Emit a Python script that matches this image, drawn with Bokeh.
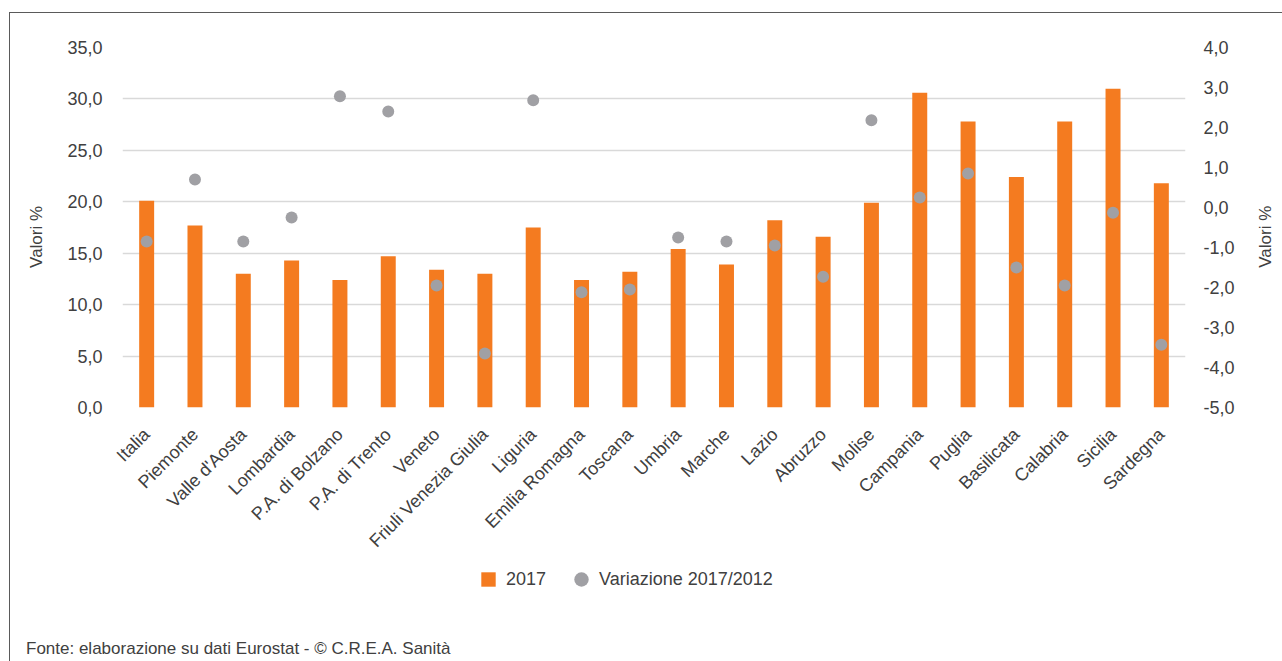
import math
from bokeh.plotting import figure
from bokeh.layouts import column, row
from bokeh.models import (ColumnDataSource, FactorRange, Range1d, LinearAxis, FixedTicker,
                          CustomJSTickFormatter, Legend, LegendItem, Div, Label)
from bokeh.embed import file_html
from bokeh.resources import INLINE

regions = ["Italia", "Piemonte", "Valle d'Aosta", "Lombardia", "P.A. di Bolzano",
           "P.A. di Trento", "Veneto", "Friuli Venezia Giulia", "Liguria", "Emilia Romagna",
           "Toscana", "Umbria", "Marche", "Lazio", "Abruzzo", "Molise", "Campania",
           "Puglia", "Basilicata", "Calabria", "Sicilia", "Sardegna"]
val_2017 = [20.1, 17.7, 13.0, 14.3, 12.4, 14.7, 13.4, 13.0, 17.5, 12.4, 13.2,
            15.4, 13.9, 18.2, 16.6, 19.9, 30.6, 27.8, 22.4, 27.8, 31.0, 21.8]
var_2017_2012 = [-0.85, 0.70, -0.85, -0.25, 2.78, 2.40, -1.95, -3.65, 2.68, -2.12, -2.05,
                 -0.75, -0.85, -0.95, -1.73, 2.18, 0.25, 0.85, -1.50, -1.95, -0.13, -3.43]
left_ticks = [0, 5, 10, 15, 20, 25, 30, 35]
right_ticks = [-5, -4, -3, -2, -1, 0, 1, 2, 3, 4]
axis_title = "Valori %"
legend_labels = ["2017", "Variazione 2017/2012"]
footer = "Fonte: elaborazione su dati Eurostat - \u00a9 C.R.E.A. Sanit\u00e0"

FONT = "Liberation Sans"
FS = "18px"
FS_SMALL = "17px"
TEXT = "#404040"
ORANGE = "#F47B20"
GRAY = "#A0A0A4"
GRID = "#D9D9D9"

W = 1272
WR = 32
H1 = 548
H2 = 78
H3 = 22

src = ColumnDataSource(dict(region=regions, v=val_2017, d=var_2017_2012))

p = figure(x_range=FactorRange(factors=regions, range_padding=0), y_range=Range1d(0, 35),
           width=W - WR, height=H1, output_backend="svg", toolbar_location=None,
           min_border_left=112, min_border_right=65, min_border_top=34, min_border_bottom=154)
p.extra_y_ranges = {"var": Range1d(-5, 4)}
p.outline_line_color = None
p.background_fill_color = "white"
p.border_fill_color = "white"

fmt = CustomJSTickFormatter(code="return tick.toFixed(1).replace('.', ',');")

ly = p.yaxis[0]
ly.ticker = FixedTicker(ticks=left_ticks)
ly.formatter = fmt

ry = LinearAxis(y_range_name="var", ticker=FixedTicker(ticks=right_ticks), formatter=fmt)
p.add_layout(ry, "right")

for ax in (ly, ry):
    ax.axis_line_color = None
    ax.major_tick_line_color = None
    ax.minor_tick_line_color = None
    ax.major_tick_out = 0
    ax.major_tick_in = 0
    ax.major_label_text_font = FONT
    ax.major_label_text_font_size = FS
    ax.major_label_text_color = TEXT
ly.major_label_standoff = 20
ry.major_label_standoff = 18
ry.major_label_text_align = "right"

# left title (non-breaking spaces nudge it slightly below the frame centre, as in the source)
ly.axis_label = axis_title + "\u00a0\u00a0\u00a0\u00a0"
ly.axis_label_text_font = FONT
ly.axis_label_text_font_size = FS_SMALL
ly.axis_label_text_font_style = "normal"
ly.axis_label_text_color = TEXT
ly.axis_label_standoff = 18

xa = p.xaxis[0]
xa.axis_line_color = None
xa.major_tick_line_color = None
xa.major_tick_out = 0
xa.major_label_orientation = math.pi / 4
xa.major_label_standoff = 24
xa.major_label_text_font = FONT
xa.major_label_text_font_size = FS
xa.major_label_text_color = TEXT

p.xgrid.grid_line_color = None
p.ygrid.grid_line_color = GRID
p.ygrid.grid_line_width = 1.6

p.vbar(x="region", top="v", width=0.31, source=src, fill_color=ORANGE, line_color=None)
p.scatter(x="region", y="d", y_range_name="var", size=12, source=src,
          fill_color=GRAY, line_color=None)

# narrow strip on the right carrying the right-hand axis title
r = figure(x_range=Range1d(0, WR), y_range=Range1d(0, 35), width=WR, height=H1,
           output_backend="svg", toolbar_location=None, x_axis_type=None, y_axis_type=None,
           min_border_left=0, min_border_right=0, min_border_top=34, min_border_bottom=154)
r.outline_line_color = None
r.xgrid.visible = False
r.ygrid.visible = False
r.background_fill_color = "white"
r.border_fill_color = "white"
r.add_layout(Label(x=15, y=16.6, text=axis_title, angle=math.pi / 2, text_align="center",
                   text_baseline="middle", text_font=FONT, text_font_size=FS_SMALL,
                   text_color=TEXT))

# legend strip
q = figure(x_range=Range1d(0, 1), y_range=Range1d(0, 1), width=W, height=H2,
           output_backend="svg", toolbar_location=None, x_axis_type=None, y_axis_type=None,
           min_border_left=112, min_border_right=97, min_border_top=0, min_border_bottom=0)
q.outline_line_color = None
q.xgrid.visible = False
q.ygrid.visible = False
q.background_fill_color = "white"
q.border_fill_color = "white"

# legend swatches only: their single point lies outside the visible range
proxy = ColumnDataSource(dict(x=[-10], y=[-10]))
sq_proxy = q.scatter(x="x", y="y", source=proxy, marker="square", size=14,
                     fill_color=ORANGE, line_color=None)
ci_proxy = q.scatter(x="x", y="y", source=proxy, marker="circle", size=14,
                     fill_color=GRAY, line_color=None)

legend = Legend(items=[LegendItem(label=legend_labels[0], renderers=[sq_proxy]),
                       LegendItem(label=legend_labels[1], renderers=[ci_proxy])],
                location=(348, 42), orientation="horizontal", glyph_width=36, glyph_height=36,
                label_standoff=0, spacing=17, padding=0, margin=0, border_line_color=None,
                background_fill_alpha=0, label_text_font=FONT, label_text_font_size=FS,
                label_text_color=TEXT)
q.add_layout(legend)

note = Div(text=('<div style="font-family:\'Liberation Sans\';font-size:17px;color:%s;'
                 'line-height:20px;white-space:nowrap">%s</div>') % (TEXT, footer),
           width=W - 16, height=H3)
note.margin = (0, 0, 0, 16)
note.styles = {"font-family": "Liberation Sans", "font-size": "17px", "color": TEXT,
               "line-height": "20px"}

layout = column(row(p, r, spacing=0), q, note, spacing=0)
layout.styles = {"border-top": "1px solid #5a5a5a", "border-left": "1px solid #5a5a5a"}
layout.margin = (12, 0, 0, 9)

open("out.html", "w").write(file_html(layout, INLINE))
